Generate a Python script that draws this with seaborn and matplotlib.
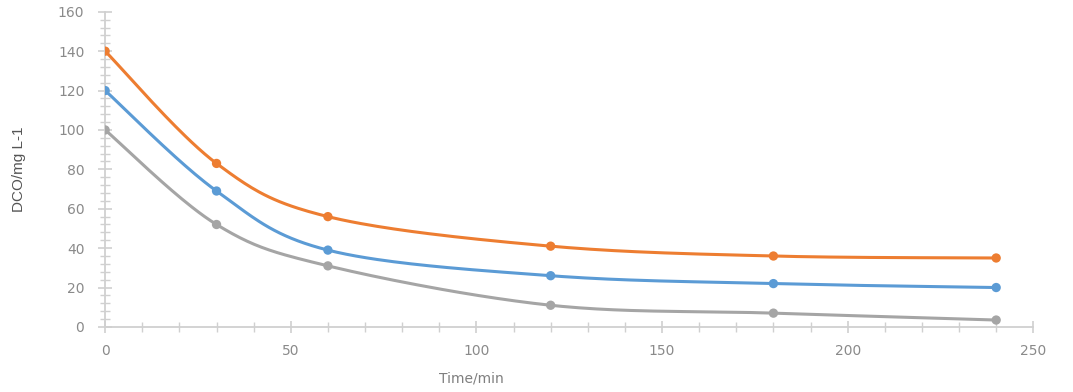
import numpy as np
import pandas as pd
import matplotlib
matplotlib.use('Agg')
import matplotlib.pyplot as plt
from matplotlib.ticker import MultipleLocator
import seaborn as sns

# --- data ---
time_min = [0, 30, 60, 120, 180, 240]
dco_orange = [140, 83, 56, 41, 36, 35]
dco_blue = [120, 69, 39, 26, 22, 20]
dco_gray = [100, 52, 31, 11, 7, 3.5]

series = {'orange': dco_orange, 'blue': dco_blue, 'gray': dco_gray}
colors = {'orange': '#ED7D31', 'blue': '#5B9BD5', 'gray': '#A5A5A5'}


def smooth_curve(x, y, n=40):
    # Excel-like smoothed line: cubic Bezier segments through the points
    x = np.asarray(x, float)
    y = np.asarray(y, float)
    px = np.concatenate([[x[0]], x, [x[-1]]])
    py = np.concatenate([[y[0]], y, [y[-1]]])
    t = np.linspace(0, 1, n)
    xs, ys = [], []
    for i in range(1, len(px) - 2):
        p0 = np.array([px[i], py[i]])
        p3 = np.array([px[i + 1], py[i + 1]])
        c1 = p0 + (np.array([px[i + 1], py[i + 1]]) - np.array([px[i - 1], py[i - 1]])) / 6
        c2 = p3 - (np.array([px[i + 2], py[i + 2]]) - np.array([px[i], py[i]])) / 6
        pts = ((1 - t) ** 3)[:, None] * p0 + (3 * (1 - t) ** 2 * t)[:, None] * c1 \
            + (3 * (1 - t) * t ** 2)[:, None] * c2 + (t ** 3)[:, None] * p3
        xs.extend(pts[:, 0])
        ys.extend(pts[:, 1])
    return xs, ys


sns.set_style('white')
plt.rcParams['font.family'] = ['DejaVu Sans']
fig = plt.figure(figsize=(10.73, 3.92), dpi=100)
ax = fig.add_axes([0.098, 0.166, 0.865, 0.804])

for name, vals in series.items():
    sx, sy = smooth_curve(time_min, vals)
    sns.lineplot(x=sx, y=sy, ax=ax, color=colors[name], linewidth=2.2, sort=False)
    df = pd.DataFrame({'t': time_min, 'v': vals})
    sns.scatterplot(data=df, x='t', y='v', ax=ax, color=colors[name], s=45,
                    edgecolor='none', zorder=3)

ax.set_xlim(0, 250)
ax.set_ylim(0, 160)
ax.xaxis.set_major_locator(MultipleLocator(50))
ax.xaxis.set_minor_locator(MultipleLocator(10))
ax.yaxis.set_major_locator(MultipleLocator(20))
ax.yaxis.set_minor_locator(MultipleLocator(4))

for s in ['top', 'right']:
    ax.spines[s].set_visible(False)
for s in ['left', 'bottom']:
    ax.spines[s].set_color('#d0d0d0')
    ax.spines[s].set_linewidth(1.3)

ax.tick_params(axis='both', which='both', direction='inout', color='#d0d0d0',
               labelcolor='#8a8a8a', labelsize=10, bottom=True, left=True)
ax.tick_params(axis='y', which='major', length=10, width=1.2, pad=10)
ax.tick_params(axis='y', which='minor', length=7, width=1)
ax.tick_params(axis='x', which='major', length=8, width=1.2, pad=8)
ax.tick_params(axis='x', which='minor', length=7, width=1)

ax.set_xlabel('Time/min', color='#7f7f7f', fontsize=10)
ax.xaxis.set_label_coords(0.395, -0.14)
ax.set_ylabel('DCO/mg L-1', color='#555555', fontsize=11,
              family=['Liberation Sans Narrow', 'Liberation Sans'])
ax.yaxis.set_label_coords(-0.085, 0.5)

fig.savefig('out.png', dpi=100)
